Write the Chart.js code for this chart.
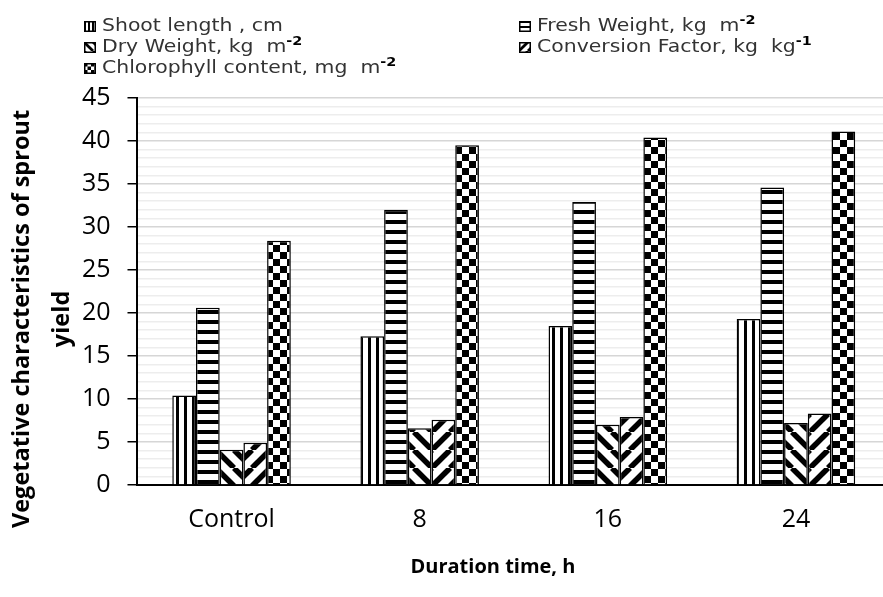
<!DOCTYPE html>
<html>
<head>
<meta charset="utf-8">
<script src="https://cdn.jsdelivr.net/npm/chart.js@4.4.0/dist/chart.umd.min.js"></script>
<style>
  body { margin: 0; background: #fff; overflow: hidden; }
  #wrap { position: relative; width: 890px; height: 597px; }
  #legend { position: absolute; left: 0; top: 0; width: 883px; height: 80px;
            font-family: "DejaVu Sans", sans-serif; font-size: 17px; color: #333; }
  .item { position: absolute; white-space: nowrap; line-height: 20px; }
  .item canvas { vertical-align: -1px; margin-right: 6px; }
  .item span { display: inline-block; transform: scaleX(1.2); transform-origin: left center; }
  .item sup { font-weight: bold; font-size: 12px; color: #000; vertical-align: 7px; line-height: 0; }
</style>
</head>
<body>
<div id="wrap">
  <canvas id="myChart"></canvas>
  <div id="legend"></div>
</div>
<script>
// datos
const categories = ["Control", "8", "16", "24"];
const shootLength = [10.4, 17.3, 18.5, 19.3];
const freshWeight = [20.6, 32.0, 32.9, 34.6];
const dryWeight = [4.1, 6.6, 7.0, 7.2];
const conversionFactor = [4.9, 7.6, 7.9, 8.3];
const chlorophyll = [28.4, 39.5, 40.4, 41.1];

const seriesNames = [
  "Shoot length , cm",
  "Fresh Weight, kg&nbsp; m<sup>-2</sup>",
  "Dry Weight, kg&nbsp; m<sup>-2</sup>",
  "Conversion Factor, kg&nbsp; kg<sup>-1</sup>",
  "Chlorophyll content, mg&nbsp; m<sup>-2</sup>"
];
const seriesLabels = ["Shoot length , cm", "Fresh Weight, kg m-2", "Dry Weight, kg m-2",
  "Conversion Factor, kg kg-1", "Chlorophyll content, mg m-2"];
const patternKinds = ["vertical", "horizontal", "down", "up", "checker"];

// Patrones de relleno
function makePattern(kind, s) {
  const c = document.createElement("canvas");
  const g = c.getContext("2d");
  let n;
  if (kind === "vertical") {
    n = Math.round(8 * s); c.width = n; c.height = n;
    g.fillStyle = "#fff"; g.fillRect(0, 0, n, n);
    g.fillStyle = "#000"; g.fillRect(0, 0, Math.max(1, Math.round(3 * s)), n);
  } else if (kind === "horizontal") {
    n = Math.round(10 * s); c.width = n; c.height = n;
    g.fillStyle = "#fff"; g.fillRect(0, 0, n, n);
    g.fillStyle = "#000"; g.fillRect(0, 0, n, Math.max(1, Math.round(4 * s)));
  } else if (kind === "checker") {
    n = Math.round(14 * s); c.width = n; c.height = n;
    g.fillStyle = "#fff"; g.fillRect(0, 0, n, n);
    g.fillStyle = "#000";
    g.fillRect(0, 0, n / 2, n / 2); g.fillRect(n / 2, n / 2, n / 2, n / 2);
  } else {
    n = Math.round(18 * s); c.width = n; c.height = n;
    g.fillStyle = "#fff"; g.fillRect(0, 0, n, n);
    g.strokeStyle = "#000"; g.lineWidth = 5.5 * s;
    for (let k = -1; k <= 1; k++) {
      g.beginPath();
      if (kind === "down") { g.moveTo(k * n, 0); g.lineTo(k * n + n, n); }
      else { g.moveTo(k * n, n); g.lineTo(k * n + n, 0); }
      g.stroke();
    }
  }
  return c;
}

const ctx = document.getElementById("myChart");
const pctx = ctx.getContext("2d");
const patterns = patternKinds.map((k) => pctx.createPattern(makePattern(k, 1), "repeat"));
const seriesData = [shootLength, freshWeight, dryWeight, conversionFactor, chlorophyll];

// Leyenda HTML (con superindices)
const legendPos = [
  [84, 15], [519, 15], [84, 36], [519, 36], [84, 57]
];
const legend = document.getElementById("legend");
seriesNames.forEach((name, i) => {
  const div = document.createElement("div");
  div.className = "item";
  div.style.left = legendPos[i][0] + "px";
  div.style.top = legendPos[i][1] + "px";
  const sw = document.createElement("canvas");
  sw.width = 12; sw.height = 11;
  const sg = sw.getContext("2d");
  sg.fillStyle = sg.createPattern(makePattern(patternKinds[i], 0.5), "repeat");
  sg.fillRect(0, 0, 12, 11);
  sg.strokeStyle = "#000"; sg.lineWidth = 1.5;
  sg.strokeRect(0.75, 0.75, 10.5, 9.5);
  div.appendChild(sw);
  const span = document.createElement("span");
  span.innerHTML = name;
  div.appendChild(span);
  legend.appendChild(div);
});

const tickFont = { family: "'Open Sans', sans-serif", size: 25 };

// los espacios finales desplazan los titulos como en el original
const yTitle = ["Vegetative characteristics of sprout         ", "yield         "];
const xTitle = "Duration time, h        ";

new Chart(ctx, {
  type: "bar",
  data: {
    labels: categories,
    datasets: seriesData.map((d, i) => ({
      label: seriesLabels[i],
      data: d,
      backgroundColor: patterns[i],
      borderColor: "#000",
      borderWidth: 1.5,
      categoryPercentage: 0.63,
      barPercentage: 1.0,
    })),
  },
  options: {
    responsive: true,
    maintainAspectRatio: false,
    animation: false,
    layout: { padding: { top: 98, right: 0, left: 0, bottom: 14 } },
    plugins: {
      legend: { display: false },
      tooltip: { enabled: false },
    },
    scales: {
      x: {
        grid: { display: false },
        border: { display: true, color: "#000", width: 2 },
        ticks: { color: "#000", font: tickFont, padding: 12 },
        title: {
          display: true,
          text: xTitle,
          color: "#000",
          font: { family: "'Open Sans', sans-serif", size: 20, weight: "bold" },
          padding: { top: 8 },
        },
      },
      y: {
        min: 0,
        max: 45,
        border: { display: true, color: "#000", width: 2 },
        grid: {
          color: (c) => (c.tick && c.tick.value % 5 === 0 ? "#d6d6d6" : "#ededed"),
          lineWidth: 1.5,
          tickLength: 10,
          tickColor: (c) => (c.tick && c.tick.value % 5 === 0 ? "#000" : "rgba(0,0,0,0)"),
          tickWidth: 1.5,
        },
        ticks: {
          stepSize: 1,
          autoSkip: false,
          color: "#000",
          font: tickFont,
          padding: 17,
          callback: function (value) {
            return value % 5 === 0 ? value : "";
          },
        },
        title: {
          display: true,
          text: yTitle,
          color: "#000",
          font: { family: "'Open Sans', sans-serif", size: 23.5, weight: "bold", lineHeight: 1.7 },
          padding: { top: 2, bottom: -17 },
        },
      },
    },
  },
});
</script>
</body>
</html>
